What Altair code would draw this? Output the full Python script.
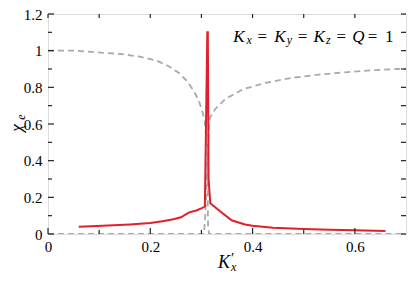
import altair as alt
import pandas as pd

# ---- data ----
red_x = [0.06, 0.096, 0.16, 0.20, 0.224, 0.245, 0.26, 0.276, 0.29, 0.301, 0.3067,
         0.3115, 0.3125, 0.314, 0.3173, 0.337, 0.359, 0.385, 0.40, 0.44, 0.50, 0.55, 0.60, 0.66]
red_y = [0.040, 0.043, 0.052, 0.060, 0.070, 0.080, 0.091, 0.118, 0.128, 0.141, 0.150,
         1.100, 1.100, 0.300, 0.168, 0.123, 0.075, 0.052, 0.045, 0.034, 0.027, 0.023, 0.020, 0.016]

grayA_x = [0.0, 0.006, 0.051, 0.096, 0.141, 0.179, 0.212, 0.237, 0.256, 0.272, 0.285,
           0.295, 0.301, 0.306, 0.309, 0.311, 0.312, 0.3125, 0.313, 0.315, 0.40, 0.55, 0.70]
grayA_y = [1.0, 1.0, 1.0, 0.991, 0.982, 0.968, 0.946, 0.914, 0.878, 0.834, 0.780,
           0.727, 0.673, 0.628, 0.54, 0.42, 0.28, 0.14, 0.04, 0.0, 0.0, 0.0, 0.0]

grayB_x = [0.0, 0.15, 0.30, 0.305, 0.308, 0.311, 0.313, 0.315, 0.317, 0.327, 0.346,
           0.381, 0.426, 0.477, 0.529, 0.58, 0.631, 0.683, 0.70]
grayB_y = [0.0, 0.0, 0.0, 0.0, 0.12, 0.33, 0.50, 0.60, 0.637, 0.682, 0.735,
           0.789, 0.825, 0.852, 0.869, 0.882, 0.893, 0.900, 0.901]

x_major = [0, 0.2, 0.4, 0.6]
x_minor = [0.1, 0.3, 0.5]
y_major = [0, 0.2, 0.4, 0.6, 0.8, 1.0, 1.2]
y_minor = [0.1, 0.3, 0.5, 0.7, 0.9, 1.1]

# annotation pieces: text, x (data), y (data), size, style
ann_text = ["K", "=", "K", "=", "K", "=", "Q", "=", "1", "x", "y", "z"]
ann_x = [0.362, 0.4096, 0.4423, 0.4885, 0.5192, 0.564, 0.5948, 0.625, 0.659, 0.3879, 0.4667, 0.5436]
ann_y = [1.05, 1.05, 1.05, 1.05, 1.05, 1.05, 1.05, 1.05, 1.05, 1.034, 1.034, 1.034]
ann_big = [True, True, True, True, True, True, True, True, True, False, False, False]
ann_italic = [True, False, True, False, True, False, True, False, False, True, True, True]

W, H = 358, 220
FONT = "Liberation Serif"
RED = "#e0202a"
GRAY = "#aaaaaa"

xs = alt.Scale(domain=[0, 0.7], nice=False, zero=False)
ys = alt.Scale(domain=[0, 1.2], nice=False, zero=False)

xaxis = alt.Axis(values=x_major, format="~g", title=None, grid=False, ticks=False,
                 tickSize=0, domain=False, labelFont=FONT, labelFontSize=15,
                 labelColor="black", labelPadding=5, labelOverlap=False, labelFlush=False)
yaxis = alt.Axis(values=y_major, format="~g", title=None, grid=False, ticks=False,
                 tickSize=0, domain=False, labelFont=FONT, labelFontSize=15,
                 labelColor="black", labelPadding=6, labelOverlap=False, labelFlush=False)


def line_df(xv, yv):
    return pd.DataFrame({"x": xv, "y": yv, "i": list(range(len(xv)))})


def X(f):
    return alt.X(f, scale=xs, axis=xaxis)


def Y(f):
    return alt.Y(f, scale=ys, axis=yaxis)


gA = alt.Chart(line_df(grayA_x, grayA_y)).mark_line(
    color=GRAY, strokeWidth=1.8, strokeDash=[6, 4], clip=True
).encode(x=X("x:Q"), y=Y("y:Q"), order="i:Q")

gB = alt.Chart(line_df(grayB_x, grayB_y)).mark_line(
    color=GRAY, strokeWidth=1.8, strokeDash=[6, 4], clip=True
).encode(x=X("x:Q"), y=Y("y:Q"), order="i:Q")

red = alt.Chart(line_df(red_x, red_y)).mark_line(
    color=RED, strokeWidth=2, clip=True
).encode(x=X("x:Q"), y=Y("y:Q"), order="i:Q")

TC = "#222222"
xmaj = pd.DataFrame({"v": x_major})
xmin = pd.DataFrame({"v": x_minor})
xall = pd.DataFrame({"v": x_major + x_minor})
ymaj = pd.DataFrame({"v": y_major})
ymin = pd.DataFrame({"v": y_minor})
yall = pd.DataFrame({"v": y_major + y_minor})

ticks = [
    alt.Chart(xmaj).mark_rule(color=TC, strokeWidth=1.2).encode(
        x=X("v:Q"), y=alt.value(H), y2=alt.value(H - 6)),
    alt.Chart(xmin).mark_rule(color=TC, strokeWidth=1.2).encode(
        x=X("v:Q"), y=alt.value(H), y2=alt.value(H - 4)),
    alt.Chart(xall).mark_rule(color=TC, strokeWidth=1.2).encode(
        x=X("v:Q"), y=alt.value(0), y2=alt.value(4)),
    alt.Chart(ymaj).mark_rule(color=TC, strokeWidth=1.2).encode(
        y=Y("v:Q"), x=alt.value(0), x2=alt.value(6)),
    alt.Chart(ymin).mark_rule(color=TC, strokeWidth=1.2).encode(
        y=Y("v:Q"), x=alt.value(0), x2=alt.value(4)),
    alt.Chart(yall).mark_rule(color=TC, strokeWidth=1.2).encode(
        y=Y("v:Q"), x=alt.value(W), x2=alt.value(W - 5)),
]

ann = pd.DataFrame({"t": ann_text, "x": ann_x, "y": ann_y, "big": ann_big, "it": ann_italic})
ann_layers = []
for big in (True, False):
    for it in (True, False):
        sub = ann[(ann.big == big) & (ann.it == it)]
        if len(sub) == 0:
            continue
        ann_layers.append(
            alt.Chart(sub).mark_text(
                font=FONT, fontSize=17 if big else 12, fontStyle="italic" if it else "normal",
                align="left", baseline="alphabetic", color="black"
            ).encode(x=X("x:Q"), y=Y("y:Q"), text="t:N")
        )

# axis titles built from pieces (italic symbol + subscript)
title_df = pd.DataFrame({"a": [0]})
titles = [
    alt.Chart(title_df).mark_text(font=FONT, fontSize=18, fontStyle="italic", text="K",
                                  align="left", baseline="alphabetic", color="black"
                                  ).encode(x=alt.value(W / 2 - 9), y=alt.value(H + 34)),
    alt.Chart(title_df).mark_text(font=FONT, fontSize=15, text="′",
                                  align="left", baseline="alphabetic", color="black"
                                  ).encode(x=alt.value(W / 2 + 4), y=alt.value(H + 29)),
    alt.Chart(title_df).mark_text(font=FONT, fontSize=12, fontStyle="italic", text="x",
                                  align="left", baseline="alphabetic", color="black"
                                  ).encode(x=alt.value(W / 2 + 4), y=alt.value(H + 37)),
    alt.Chart(title_df).mark_text(font=FONT, fontSize=17, fontStyle="italic", text="χ",
                                  align="center", baseline="middle", angle=270, color="black"
                                  ).encode(x=alt.value(-31), y=alt.value(H / 2 + 4)),
    alt.Chart(title_df).mark_text(font=FONT, fontSize=12, fontStyle="italic", text="e",
                                  align="center", baseline="middle", angle=270, color="black"
                                  ).encode(x=alt.value(-27), y=alt.value(H / 2 - 7)),
]

chart = alt.layer(gA, gB, red, *ticks, *ann_layers, *titles).properties(
    width=W, height=H,
    autosize=alt.AutoSizeParams(type="none"),
    padding={"left": 40, "top": 6, "right": 1, "bottom": 40},
).configure_view(stroke=TC, strokeWidth=1.6).configure(background="white")

chart.save("out.html", embed_options={"renderer": "svg", "actions": False})
